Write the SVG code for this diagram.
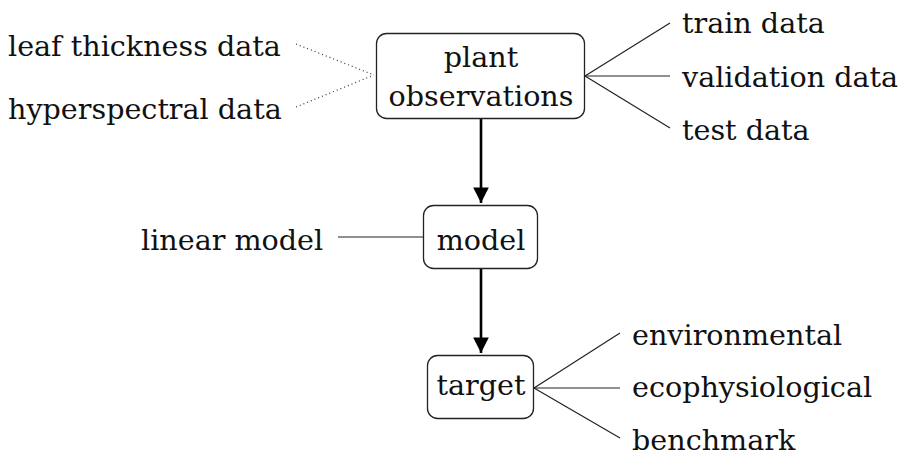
<svg xmlns="http://www.w3.org/2000/svg" width="909" height="468" viewBox="0 0 909 468">
<defs>
<style>
text{font-family:"DejaVu Serif","Liberation Serif",serif;font-size:28.6px;fill:#111}
.box{fill:#fff;stroke:#222;stroke-width:1.3}
.ln{stroke:#222;stroke-width:1.2;fill:none}
.dot{stroke:#333;stroke-width:1.2;stroke-dasharray:1 3;fill:none}
.arr{stroke:#000;stroke-width:2.6;fill:none}
.mid{text-anchor:middle}
</style>
<marker id="ah" viewBox="0 0 10 10" refX="10" refY="5" markerWidth="6" markerHeight="6" markerUnits="strokeWidth" orient="auto">
<path d="M0,0 L10,5 L0,10 z" fill="#000"/>
</marker>
</defs>
<rect width="909" height="468" fill="#fff"/>
<g id="connectors">
<line class="dot" x1="296" y1="44" x2="374" y2="75"/>
<line class="dot" x1="296" y1="107" x2="374" y2="75"/>
<line class="ln" x1="585" y1="76" x2="670" y2="23"/>
<line class="ln" x1="585" y1="76" x2="670" y2="76"/>
<line class="ln" x1="585" y1="76" x2="670" y2="128"/>
<line class="ln" x1="338" y1="237" x2="424" y2="237"/>
<line class="ln" x1="534" y1="388" x2="620" y2="333"/>
<line class="ln" x1="534" y1="388" x2="620" y2="388"/>
<line class="ln" x1="534" y1="388" x2="620" y2="438"/>
<line class="arr" x1="481" y1="119" x2="481" y2="203" marker-end="url(#ah)"/>
<line class="arr" x1="481" y1="269" x2="481" y2="353" marker-end="url(#ah)"/>
</g>
<g id="plant-observations">
<rect class="box" x="376.5" y="33.5" width="208" height="85" rx="10"/>
<text class="mid" x="481" y="67">plant</text>
<text class="mid" x="481" y="106">observations</text>
</g>
<g id="model">
<rect class="box" x="423.5" y="205.5" width="114" height="63" rx="10"/>
<text class="mid" x="481" y="250">model</text>
</g>
<g id="target">
<rect class="box" x="427.5" y="355.5" width="106" height="63" rx="10"/>
<text class="mid" x="481" y="395">target</text>
</g>
<g id="leaf-thickness-data"><text x="8" y="56">leaf thickness data</text></g>
<g id="hyperspectral-data"><text x="8" y="119">hyperspectral data</text></g>
<g id="train-data"><text x="682" y="33">train data</text></g>
<g id="validation-data"><text x="682" y="87">validation data</text></g>
<g id="test-data"><text x="682" y="140">test data</text></g>
<g id="linear-model"><text x="141" y="250">linear model</text></g>
<g id="environmental"><text x="632" y="345">environmental</text></g>
<g id="ecophysiological"><text x="632" y="397">ecophysiological</text></g>
<g id="benchmark"><text x="632" y="450">benchmark</text></g>
</svg>
